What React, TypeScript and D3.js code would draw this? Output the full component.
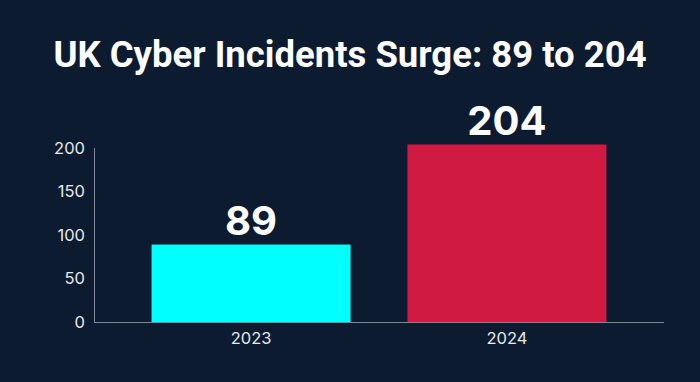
import React from "react";
import * as d3 from "d3";

const categories = ["2023", "2024"];
const values = [89, 204];
const colors = ["#00FFFF", "#D11A41"];
const yTicks = [0, 50, 100, 150, 200];
const title = "UK Cyber Incidents Surge: 89 to 204";

export default function App() {
  const W = 700, H = 382;
  const m = { left: 94, right: 36, top: 148, bottom: 60 };
  const x = d3.scaleBand<string>().domain(categories).range([m.left, W - m.right]).paddingInner(0.222).paddingOuter(0.225);
  const y = d3.scaleLinear().domain([0, 200]).range([H - m.bottom, m.top]);
  const font = "Inter, 'Noto Sans', sans-serif";
  return (
    <svg width={W} height={H} style={{ position: "absolute", left: 0, top: 0, display: "block" }}>
      <rect x={0} y={0} width={W} height={H} fill="#0D1B30" />
      <text x={W / 2} y={67} textAnchor="middle" fill="#FFFFFF" fontFamily="Roboto, sans-serif" fontWeight={700} fontSize={36.5}>{title}</text>
      {categories.map((c, i) => (
        <g key={c}>
          <rect x={x(c)} y={y(values[i])} width={x.bandwidth()} height={y(0) - y(values[i])} fill={colors[i]} />
          <text x={(x(c) as number) + x.bandwidth() / 2} y={y(values[i]) - 10} textAnchor="middle" fill="#FFFFFF" fontFamily={font} fontWeight={700} fontSize={40}>{values[i]}</text>
          <text x={(x(c) as number) + x.bandwidth() / 2} y={y(0) + 22} textAnchor="middle" fill="#E6E8EC" fontFamily={font} fontSize={16.5}>{c}</text>
        </g>
      ))}
      {yTicks.map(t => (
        <text key={t} x={m.left - 9} y={y(t)} dy="0.35em" textAnchor="end" fill="#E6E8EC" fontFamily={font} fontSize={16.5}>{t}</text>
      ))}
      <line x1={m.left + 0.5} x2={m.left + 0.5} y1={y(200)} y2={y(0)} stroke="#7D8796" strokeWidth={1} />
      <line x1={m.left} x2={W - m.right} y1={y(0) + 0.5} y2={y(0) + 0.5} stroke="#7D8796" strokeWidth={1} />
    </svg>
  );
}
